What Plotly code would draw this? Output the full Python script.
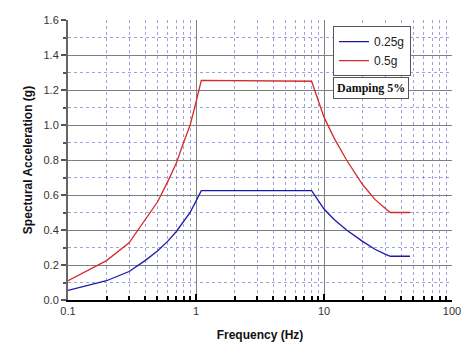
import plotly.graph_objects as go

freq = [0.1, 0.2, 0.3, 0.4, 0.5, 0.6, 0.7, 0.8, 0.9, 1.0, 1.1, 8.0, 10.0, 12.0, 15.0, 20.0, 25.0, 30.0, 33.0, 47.0]
acc_025 = [0.055, 0.11, 0.163, 0.225, 0.28, 0.335, 0.39, 0.45, 0.5, 0.565, 0.625, 0.625, 0.52, 0.46, 0.40, 0.335, 0.29, 0.262, 0.25, 0.25]
acc_05 = [0.11, 0.225, 0.327, 0.455, 0.56, 0.675, 0.78, 0.9, 1.0, 1.13, 1.255, 1.25, 1.045, 0.925, 0.80, 0.66, 0.575, 0.525, 0.5, 0.5]

x_major = [0.1, 1, 10, 100]
x_major_text = ["0.1", "1", "10", "100"]
x_minor = [m * d for d in (0.1, 1, 10) for m in range(2, 10)]

fig = go.Figure()
fig.add_trace(go.Scatter(x=freq, y=acc_025, mode="lines", name="0.25g",
                         line=dict(color="#1a1aa8", width=1.3)))
fig.add_trace(go.Scatter(x=freq, y=acc_05, mode="lines", name="0.5g",
                         line=dict(color="#d42a2a", width=1.3)))

minor_grid = "rgba(120,120,210,0.7)"
fig.update_layout(
    width=472, height=351,
    margin=dict(l=68, r=20, t=20, b=51),
    paper_bgcolor="white", plot_bgcolor="white",
    font=dict(family="Liberation Sans, Arial, sans-serif", color="#333333"),
    showlegend=True,
    legend=dict(x=0.69, y=0.978, xanchor="left", yanchor="top",
                bordercolor="#555555", borderwidth=1, bgcolor="white",
                font=dict(size=12, color="#222222"),
                tracegroupgap=0, itemwidth=30),
    xaxis=dict(type="log", range=[-1, 2],
               tickvals=x_major, ticktext=x_major_text,
               ticks="inside", ticklen=6, tickcolor="#000000", tickwidth=1.5,
               showline=True, linecolor="#000000", linewidth=2,
               showgrid=True, gridcolor="#808080", gridwidth=1,
               zeroline=False,
               tickfont=dict(size=11, color="#333333"),
               minor=dict(tickvals=x_minor, ticks="inside", ticklen=4, tickcolor="#000000",
                          showgrid=True, gridcolor=minor_grid, griddash="dot", gridwidth=1),
               title=dict(text="<b>Frequency (Hz)</b>", font=dict(size=12, color="#111111"), standoff=14)),
    yaxis=dict(range=[0, 1.6], dtick=0.2, tick0=0, tickformat=".1f",
               ticks="outside", ticklen=5, tickcolor="#555555", tickwidth=1.5,
               showline=True, linecolor="#666666", linewidth=2,
               showgrid=True, gridcolor="#808080", gridwidth=1,
               zeroline=False,
               tickfont=dict(size=11, color="#333333"),
               minor=dict(dtick=0.1, tick0=0, ticks="outside", ticklen=3, tickcolor="#555555",
                          showgrid=True, gridcolor=minor_grid, griddash="dot", gridwidth=1),
               title=dict(text="<b>Spectural Acceleration (g)</b>", font=dict(size=12, color="#111111"), standoff=8)),
    annotations=[dict(text="<b>Damping 5%</b>", xref="paper", yref="paper",
                      x=0.69, y=0.795, xanchor="left", yanchor="top", showarrow=False,
                      font=dict(family="Liberation Serif, Times New Roman, serif", size=12, color="#111111"),
                      bordercolor="#555555", borderwidth=1, borderpad=3, bgcolor="white")],
)

fig.write_html("out.html")
